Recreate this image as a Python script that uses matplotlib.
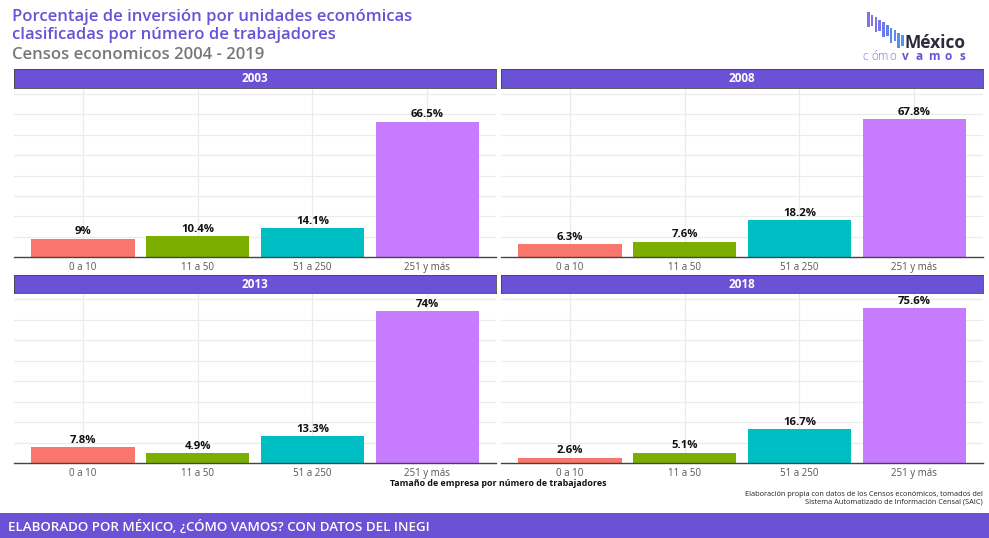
import matplotlib
matplotlib.use("Agg")
import matplotlib.pyplot as plt
from matplotlib.patches import Rectangle

categories = ["0 a 10", "11 a 50", "51 a 250", "251 y más"]
years = ["2003", "2008", "2013", "2018"]
values = {
    "2003": [9.0, 10.4, 14.1, 66.5],
    "2008": [6.3, 7.6, 18.2, 67.8],
    "2013": [7.8, 4.9, 13.3, 74.0],
    "2018": [2.6, 5.1, 16.7, 75.6],
}
labels = {
    "2003": ["9%", "10.4%", "14.1%", "66.5%"],
    "2008": ["6.3%", "7.6%", "18.2%", "67.8%"],
    "2013": ["7.8%", "4.9%", "13.3%", "74%"],
    "2018": ["2.6%", "5.1%", "16.7%", "75.6%"],
}
bar_colors = ["#F8766D", "#7CAE00", "#00BFC4", "#C77CFF"]

title = "Porcentaje de inversión por unidades económicas\nclasificadas por número de trabajadores"
subtitle = "Censos economicos 2004 - 2019"
xlabel = "Tamaño de empresa por número de trabajadores"
caption = "Elaboración propia con datos de los Censos económicos, tomados del\nSistema Automatizado de Información Censal (SAIC)"
footer = "ELABORADO POR MÉXICO, ¿CÓMO VAMOS? CON DATOS DEL INEGI"

PURPLE = "#6A51D6"
W, H = 989, 538
plt.rcParams['font.family'] = ['Open Sans', 'DejaVu Sans']

fig = plt.figure(figsize=(W / 100, H / 100), dpi=100)
fig.patch.set_facecolor("white")


def px_axes(x0, y0, x1, y1, **kw):
    return fig.add_axes([x0 / W, 1 - y1 / H, (x1 - x0) / W, (y1 - y0) / H], **kw)


panels = [
    ("2003", 14, 496, 69, 88, 257),
    ("2008", 501, 983, 69, 88, 257),
    ("2013", 14, 496, 275, 293, 463),
    ("2018", 501, 983, 275, 293, 463),
]
YMAX = 83

for yr, x0, x1, sy0, sy1, by in panels:
    ax = px_axes(x0, sy1, x1, by)
    xs = range(len(categories))
    ax.set_xlim(-0.6, len(categories) - 0.4)
    ax.set_ylim(0, YMAX)
    for y in range(10, 81, 10):
        ax.axhline(y, color="#EBEBEB", lw=0.9, zorder=0)
    for x in xs:
        ax.axvline(x, color="#EBEBEB", lw=0.9, zorder=0)
    ax.bar(list(xs), values[yr], width=0.9, color=bar_colors, zorder=2)
    for x, v, lab in zip(xs, values[yr], labels[yr]):
        ax.text(x, v + 0.6, lab, ha="center", va="bottom", fontsize=8.2,
                fontweight="bold", color="#111111", zorder=3)
    ax.set_xticks(list(xs))
    ax.set_xticklabels(categories, fontsize=7, color="#555555")
    ax.tick_params(axis="x", length=0, pad=3.5)
    ax.set_yticks([])
    for s in ["top", "left", "right"]:
        ax.spines[s].set_visible(False)
    ax.spines["bottom"].set_color("#444444")
    ax.spines["bottom"].set_linewidth(1.0)
    ax.set_facecolor("white")

    sax = px_axes(x0, sy0, x1, sy1)
    sax.set_facecolor(PURPLE)
    sax.set_xticks([])
    sax.set_yticks([])
    for s in sax.spines.values():
        s.set_color("#444444")
        s.set_linewidth(0.6)
    sax.text(0.5, 0.5, yr, ha="center", va="center", fontsize=8.5,
             fontweight="bold", color="white", transform=sax.transAxes)

# Titles
fig.text(12 / W, 1 - 9 / H, title, ha="left", va="top", fontsize=12,
         color=PURPLE, fontweight="semibold", linespacing=1.15)
fig.text(12 / W, 1 - 47 / H, subtitle, ha="left", va="top", fontsize=12,
         color="#777777", fontweight="semibold")

# Axis title
fig.text(498 / W, 1 - 483 / H, xlabel, ha="center", va="center", fontsize=6.4,
         fontweight="bold", color="#111111")

# Caption
fig.text(983 / W, 1 - 498 / H, caption, ha="right", va="center", fontsize=5.3,
         color="#222222", linespacing=1.2)

# Footer
fax = px_axes(0, 513, W, H)
fax.set_facecolor(PURPLE)
fax.set_xticks([]); fax.set_yticks([])
for s in fax.spines.values():
    s.set_visible(False)
fax.text(8 / W, 0.45, footer, ha="left", va="center", fontsize=9.6,
         color="white", fontweight="semibold", transform=fax.transAxes)

# Logo
lax = px_axes(855, 5, 975, 65)
lax.set_xlim(855, 975)
lax.set_ylim(65, 5)
lax.axis("off")
logo_cols = ["#8A6FE6", "#8370E5", "#7B72E5", "#7476E6", "#6D7BE8", "#6680EA",
             "#6086EC", "#5A8BEE", "#5590F0", "#5095F2"]
for i, c in enumerate(logo_cols):
    x = 867 + i * 3.8
    top = 12 + i * 2.6
    h = 15 - (i % 2) * 4
    lax.add_patch(Rectangle((x, top), 2.6, h, color=c, lw=0))
lax.text(904, 48, "México", ha="left", va="baseline", fontsize=12.5,
         fontweight="bold", color="#2B2B3A")
for i, ch in enumerate("cómo"):
    lax.text(865 + i * 9.3, 57, ch, ha="center", va="center", fontsize=8.5,
             fontweight="light", color="#7B6FE3")
for i, ch in enumerate("vamos"):
    lax.text(905 + i * 14.3, 57, ch, ha="center", va="center", fontsize=8.5,
             fontweight="bold", color="#6A51D6")

fig.savefig("out.png", dpi=100)
